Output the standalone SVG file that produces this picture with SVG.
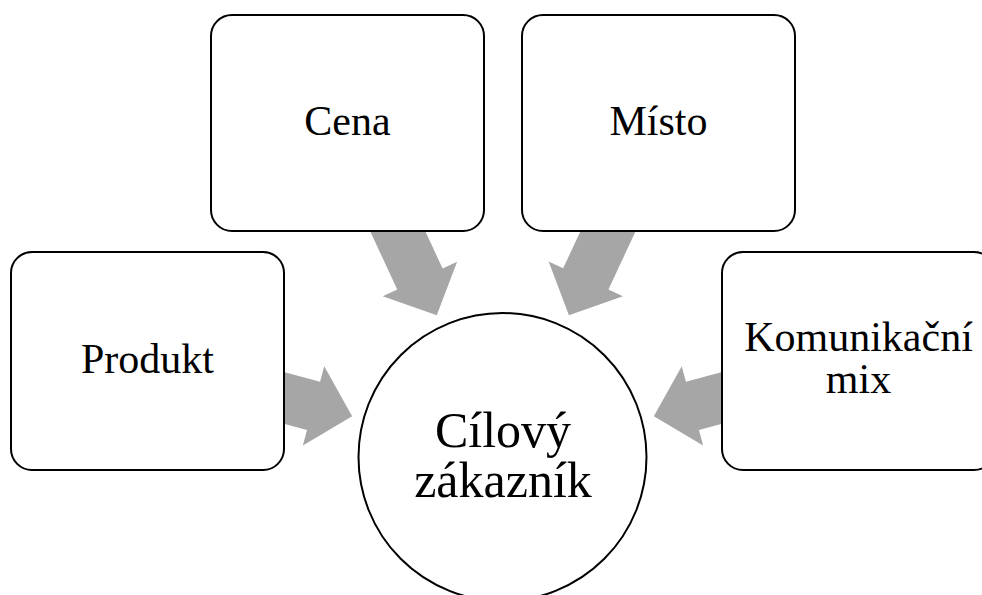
<svg xmlns="http://www.w3.org/2000/svg" xmlns:xlink="http://www.w3.org/1999/xlink" width="982" height="595" viewBox="0 0 982 595">
  <style>
    .box { fill: #ffffff; stroke: #000000; stroke-width: 2; }
    .hub { fill: #ffffff; stroke: #000000; stroke-width: 2; }
    .arrow { fill: #a6a6a6; stroke: none; }
    .label { font-family: "Liberation Serif", "Times New Roman", serif; font-size: 42px; fill: #000000; text-anchor: middle; }
    .hub-label { font-family: "Liberation Serif", "Times New Roman", serif; font-size: 50px; fill: #000000; text-anchor: middle; }
  </style>
  <defs>
    <!-- block arrow in local frame: origin at source box centre, pointing along +x -->
    <polygon id="block-arrow" points="100,-25 172,-25 172,-41 212,0 172,41 172,25 100,25"/>
  </defs>

  <!-- connectors: thick grey block arrows pointing at the central circle -->
  <g id="connectors" class="arrow">
    <use xlink:href="#block-arrow" href="#block-arrow" transform="translate(347.5,123) rotate(65.1)"/>
    <use xlink:href="#block-arrow" href="#block-arrow" transform="translate(658.5,123) rotate(115.0)"/>
    <use xlink:href="#block-arrow" href="#block-arrow" transform="translate(147.5,361) rotate(15.13)"/>
    <use xlink:href="#block-arrow" href="#block-arrow" transform="translate(858.5,361) rotate(164.9)"/>
  </g>

  <g id="node-cena">
    <rect class="box" x="211" y="15" width="273" height="216" rx="21" ry="21"/>
    <text class="label" x="347.5" y="135">Cena</text>
  </g>

  <g id="node-misto">
    <rect class="box" x="522" y="15" width="273" height="216" rx="21" ry="21"/>
    <text class="label" x="658.5" y="135">Místo</text>
  </g>

  <g id="node-produkt">
    <rect class="box" x="11" y="252" width="273" height="218" rx="21" ry="21"/>
    <text class="label" x="147.5" y="373">Produkt</text>
  </g>

  <g id="node-komunikacni-mix">
    <rect class="box" x="722" y="252" width="273" height="218" rx="21" ry="21"/>
    <text class="label" x="858.5" y="351">Komunikační</text>
    <text class="label" x="858.5" y="393">mix</text>
  </g>

  <g id="node-cilovy-zakaznik">
    <circle class="hub" cx="502.5" cy="457" r="144"/>
    <text class="hub-label" x="503" y="447">Cílový</text>
    <text class="hub-label" x="503" y="497">zákazník</text>
  </g>
</svg>
